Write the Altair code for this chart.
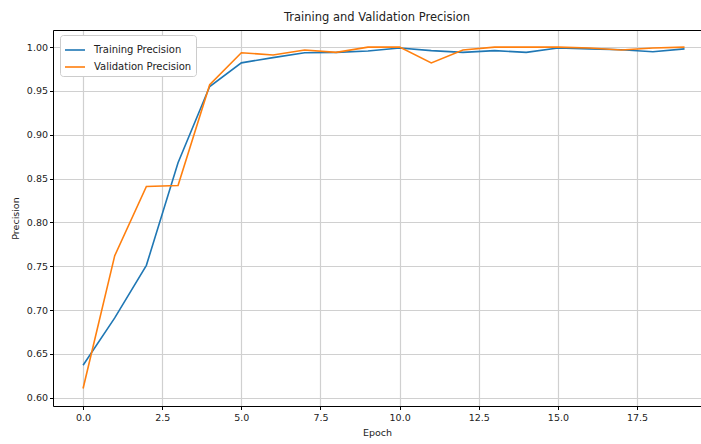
import altair as alt
import pandas as pd

epochs = list(range(20))
training = [0.637, 0.691, 0.751, 0.868, 0.955, 0.982, 0.988, 0.9935, 0.994, 0.9955,
            0.999, 0.996, 0.994, 0.996, 0.994, 0.999, 0.998, 0.997, 0.9947, 0.998]
validation = [0.6105, 0.762, 0.841, 0.842, 0.957, 0.9935, 0.991, 0.9966, 0.994, 1.0,
              1.0, 0.982, 0.9966, 1.0, 1.0, 1.0, 0.999, 0.9966, 0.999, 1.0]
series_names = ["Training Precision", "Validation Precision"]
x_ticks = [0, 2.5, 5, 7.5, 10, 12.5, 15, 17.5]
y_ticks = [0.60, 0.65, 0.70, 0.75, 0.80, 0.85, 0.90, 0.95, 1.00]

rows = []
for e, t, v in zip(epochs, training, validation):
    rows.append({"Epoch": e, "Precision": t, "Series": series_names[0]})
    rows.append({"Epoch": e, "Precision": v, "Series": series_names[1]})
df = pd.DataFrame(rows)

FONT = "DejaVu Sans"
xscale = alt.Scale(domain=[-0.95, 19.52], nice=False, zero=False)
yscale = alt.Scale(domain=[0.5905, 1.0195], nice=False, zero=False)

yaxis = alt.Axis(values=y_ticks, format=".2f", title="Precision",
                 grid=True, gridColor="#d0d0d0", gridWidth=1.2,
                 domainColor="black", tickColor="black", tickSize=3.5,
                 labelFontSize=9.5, titleFontSize=9.5, titleFontWeight="normal",
                 labelPadding=2, titlePadding=6, labelColor="#222222",
                 titleColor="#222222", labelFont=FONT, titleFont=FONT)

lines = alt.Chart(df).mark_line(strokeWidth=1.6).encode(
    x=alt.X("Epoch:Q", scale=xscale,
            axis=alt.Axis(values=x_ticks, format=".1f", title="Epoch",
                          grid=True, gridColor="#d0d0d0", gridWidth=1.2,
                          domainColor="black", tickColor="black", tickSize=3.5,
                          labelFontSize=9.5, titleFontSize=9.5, titleFontWeight="normal",
                          labelPadding=3, titlePadding=5, labelColor="#222222",
                          titleColor="#222222", labelFont=FONT, titleFont=FONT)),
    y=alt.Y("Precision:Q", scale=yscale, axis=yaxis),
    color=alt.Color("Series:N",
                    scale=alt.Scale(domain=series_names, range=["#1f77b4", "#ff7f0e"]),
                    legend=alt.Legend(title=None, orient="none", legendX=7, legendY=5,
                                      symbolType="stroke", symbolSize=400,
                                      symbolStrokeWidth=1.6, labelFont=FONT,
                                      labelFontSize=10, labelColor="#222222",
                                      fillColor="white", strokeColor="#cccccc",
                                      cornerRadius=3, padding=4, rowPadding=1,
                                      labelOffset=8)),
)

top_axis = alt.Chart(df).mark_line(opacity=0).encode(
    x=alt.X("Epoch:Q", scale=xscale,
            axis=alt.Axis(orient="top", labels=False, ticks=False, grid=False,
                          title=None, domainColor="black")),
    y=alt.Y("Precision:Q", scale=yscale, axis=yaxis),
    detail="Series:N",
)

chart = alt.layer(lines, top_axis).resolve_axis(x="independent").properties(
    width=648, height=376,
    title=alt.TitleParams("Training and Validation Precision", font=FONT,
                          fontSize=11.5, fontWeight="normal", color="#222222",
                          offset=7),
    autosize=alt.AutoSizeParams(type="none"),
    padding={"left": 53, "top": 30, "right": 0, "bottom": 38},
).configure_view(stroke=None).configure(background="white")

chart.save("out.html", embed_options={"renderer": "svg", "actions": False})
